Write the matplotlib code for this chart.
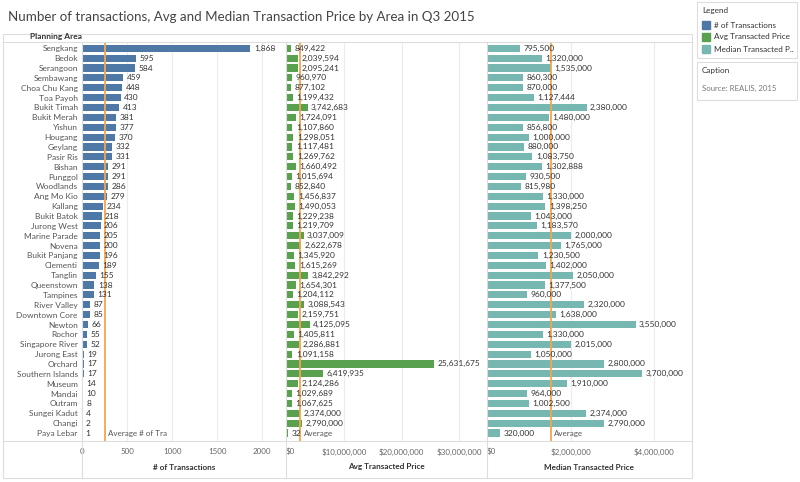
import matplotlib
matplotlib.use("Agg")
import matplotlib.pyplot as plt
from matplotlib.patches import Rectangle
from matplotlib.lines import Line2D
import numpy as np

plt.rcParams['font.family'] = ['Lato', 'DejaVu Sans']

areas = ["Sengkang", "Bedok", "Serangoon", "Sembawang", "Choa Chu Kang", "Toa Payoh",
         "Bukit Timah", "Bukit Merah", "Yishun", "Hougang", "Geylang", "Pasir Ris",
         "Bishan", "Punggol", "Woodlands", "Ang Mo Kio", "Kallang", "Bukit Batok",
         "Jurong West", "Marine Parade", "Novena", "Bukit Panjang", "Clementi", "Tanglin",
         "Queenstown", "Tampines", "River Valley", "Downtown Core", "Newton", "Rochor",
         "Singapore River", "Jurong East", "Orchard", "Southern Islands", "Museum",
         "Mandai", "Outram", "Sungei Kadut", "Changi", "Paya Lebar"]
n_trans = [1868, 595, 584, 459, 448, 430, 413, 381, 377, 370, 332, 331, 291, 291, 286,
           279, 234, 218, 206, 205, 200, 196, 189, 155, 138, 131, 87, 85, 66, 55, 52,
           19, 17, 17, 14, 10, 8, 4, 2, 1]
avg_price = [849422, 2039594, 2095241, 960970, 877102, 1199432, 3742683, 1724091,
             1107860, 1298051, 1117481, 1269762, 1660492, 1015694, 852840, 1456837,
             1490053, 1229238, 1219709, 3037009, 2622678, 1345920, 1615269, 3842292,
             1654301, 1204112, 3088543, 2159751, 4125095, 1405811, 2286881, 1091158,
             25631675, 6419935, 2124286, 1029689, 1067625, 2374000, 2790000, 320000]
median_price = [795500, 1320000, 1535000, 860300, 870000, 1127444, 2380000, 1480000,
                856800, 1000000, 880000, 1083750, 1302888, 930500, 815980, 1330000,
                1398250, 1043000, 1183570, 2000000, 1765000, 1230500, 1402000, 2050000,
                1377500, 960000, 2320000, 1638000, 3550000, 1330000, 2015000, 1050000,
                2800000, 3700000, 1910000, 964000, 1002500, 2374000, 2790000, 320000]

ticks1 = [0, 500, 1000, 1500, 2000]
tick1_labels = ["0", "500", "1000", "1500", "2000"]
ticks2 = [0, 10e6, 20e6, 30e6]
tick2_labels = ["$0", "$10,000,000", "$20,000,000", "$30,000,000"]
ticks3 = [0, 2e6, 4e6]
tick3_labels = ["$0", "$2,000,000", "$4,000,000"]

W, H = 800, 482
fig = plt.figure(figsize=(W / 100, H / 100), dpi=100)

def fx(x):
    return x / W

def fy(y):
    return 1 - y / H

top, bot = 42, 441
panels = [(82, 286), (286, 487), (487, 692)]
xmaxs = [2264, 34.8e6, 4.9e6]
colors = ["#4e79a7", "#59a14f", "#76b7b2"]
series = [n_trans, avg_price, median_price]
tick_sets = [(ticks1, tick1_labels), (ticks2, tick2_labels), (ticks3, tick3_labels)]
titles = ["# of Transactions", "Avg Transacted Price", "Median Transacted Price"]
avg_labels = ["Average # of Tra", "Average", "Average"]
avg_color = "#f5a54f"
txt_color = "#333333"

ypos = np.arange(len(areas))
for i, ((x0, x1), xmax, col, vals, (tk, tl), ttl, al) in enumerate(
        zip(panels, xmaxs, colors, series, tick_sets, titles, avg_labels)):
    ax = fig.add_axes([fx(x0), fy(bot), fx(x1) - fx(x0), fy(top) - fy(bot)])
    ax.barh(ypos, vals, height=0.72, color=col, zorder=2)
    ax.set_xlim(0, xmax)
    ax.set_ylim(39.81, -0.64)
    for s in ax.spines.values():
        s.set_visible(False)
    for t in tk[1:]:
        ax.axvline(t, color="#ececec", lw=0.8, zorder=0)
    ax.set_xticks(tk)
    ax.set_xticklabels(tl, fontsize=5.8, color="#666666")
    ax.tick_params(axis='x', length=0, pad=5)
    xl = ax.get_xticklabels()
    xl[0].set_ha('left' if i > 0 else 'center')
    if i == 0:
        ax.set_yticks(ypos)
        ax.set_yticklabels(areas, fontsize=6.0, color="#555555")
        ax.tick_params(axis='y', length=0, pad=3)
    else:
        ax.set_yticks([])
    mean = float(np.mean(vals))
    ax.axvline(mean, color=avg_color, lw=1.3, zorder=3)
    for yv, v in zip(ypos, vals):
        lbl = f"{v:,}"
        if i == 1 and yv == len(areas) - 1:
            lbl = "32"
        ax.annotate(lbl, (v, yv), xytext=(2.5, 0), textcoords="offset points",
                    va="center", ha="left", fontsize=6.0, color=txt_color, zorder=4)
    ax.annotate(al, (mean, ypos[-1]), xytext=(2.5, 0), textcoords="offset points",
                va="center", ha="left", fontsize=5.8, color="#555555", zorder=4)
    fig.text(fx((x0 + x1) / 2), fy(467), ttl, ha="center", va="center",
             fontsize=5.9, fontweight="bold", color=txt_color)

# frame and divider lines
fig.patches.append(Rectangle((fx(3), fy(478)), fx(692) - fx(3), fy(34) - fy(478),
                             transform=fig.transFigure, fill=False,
                             edgecolor="#dddddd", lw=0.8))
for x in [82, 286, 487]:
    fig.lines.append(Line2D([fx(x), fx(x)], [fy(478), fy(top)], transform=fig.transFigure,
                            color="#dddddd", lw=0.8))
for y in [top, bot]:
    fig.lines.append(Line2D([fx(3), fx(692)], [fy(y), fy(y)], transform=fig.transFigure,
                            color="#dddddd", lw=0.8))

# title and header
fig.text(fx(8), fy(17), "Number of transactions, Avg and Median Transaction Price by Area in Q3 2015",
         ha="left", va="center", fontsize=9.6, color="#444444")
fig.text(fx(30), fy(37), "Planning Area", ha="left", va="center", fontsize=6.0,
         fontweight="bold", color=txt_color)

# legend box
fig.patches.append(Rectangle((fx(697), fy(58)), fx(797) - fx(697), fy(2) - fy(58),
                             transform=fig.transFigure, fill=False, edgecolor="#dddddd", lw=0.8))
fig.text(fx(702), fy(10), "Legend", ha="left", va="center", fontsize=5.9, color=txt_color)
leg_names = ["# of Transactions", "Avg Transacted Price", "Median Transacted P.."]
for k, (nm, col) in enumerate(zip(leg_names, colors)):
    yy = 25 + 12 * k
    fig.patches.append(Rectangle((fx(702), fy(yy + 4)), fx(8), fy(0) - fy(8),
                                 transform=fig.transFigure, color=col))
    fig.text(fx(714), fy(yy), nm, ha="left", va="center", fontsize=5.85, color=txt_color)

fig.patches.append(Rectangle((fx(697), fy(100)), fx(797) - fx(697), fy(62) - fy(100),
                             transform=fig.transFigure, fill=False, edgecolor="#dddddd", lw=0.8))
fig.text(fx(702), fy(71), "Caption", ha="left", va="center", fontsize=5.9, color=txt_color)
fig.text(fx(702), fy(88), "Source: REALIS, 2015", ha="left", va="center", fontsize=5.6,
         color="#777777")

fig.savefig("out.png", dpi=100)
